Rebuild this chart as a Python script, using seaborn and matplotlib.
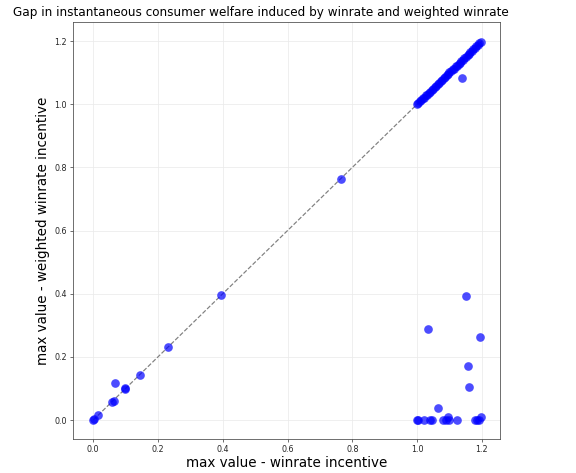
import numpy as np
import pandas as pd
import matplotlib
matplotlib.use("Agg")
import matplotlib.pyplot as plt
import seaborn as sns

# points lying on (or near) the diagonal, low end
low_x = [0.0, 0.003, 0.016, 0.058, 0.063, 0.066, 0.098, 0.097, 0.143, 0.230, 0.395, 0.764]
low_y = [0.0, 0.002, 0.016, 0.057, 0.060, 0.116, 0.097, 0.100, 0.142, 0.230, 0.395, 0.763]

# dense diagonal band between 1.0 and 1.2
band_x = [1.000, 1.004, 1.008, 1.013, 1.018, 1.022, 1.027, 1.031, 1.036, 1.041,
          1.045, 1.050, 1.054, 1.059, 1.064, 1.068, 1.073, 1.077, 1.082, 1.087,
          1.091, 1.096, 1.100, 1.105, 1.110, 1.114, 1.119, 1.123, 1.128, 1.133,
          1.137, 1.142, 1.146, 1.151, 1.156, 1.160, 1.165, 1.169, 1.174, 1.179,
          1.183, 1.188, 1.192, 1.196]
band_y = [1.000, 1.005, 1.009, 1.013, 1.019, 1.021, 1.028, 1.030, 1.037, 1.040,
          1.046, 1.049, 1.055, 1.058, 1.065, 1.067, 1.074, 1.076, 1.083, 1.086,
          1.092, 1.095, 1.101, 1.104, 1.111, 1.113, 1.120, 1.122, 1.129, 1.132,
          1.138, 1.141, 1.147, 1.150, 1.157, 1.159, 1.166, 1.168, 1.175, 1.178,
          1.184, 1.187, 1.193, 1.196]

# off-diagonal points
off_x = [1.140, 1.150, 1.033, 1.193, 1.157, 1.160, 1.065,
         1.000, 1.004, 1.020, 1.040, 1.045, 1.081, 1.090, 1.097, 1.100, 1.122,
         1.179, 1.185, 1.190, 1.196]
off_y = [1.082, 0.392, 0.289, 0.263, 0.171, 0.104, 0.039,
         0.0, 0.0, 0.0, 0.0, 0.0, 0.0, 0.0, 0.010, 0.0, 0.0,
         0.0, 0.0, 0.0, 0.008]

df = pd.DataFrame({
    "winrate": low_x + band_x + off_x,
    "weighted": low_y + band_y + off_y,
})

sns.set_style("whitegrid", {"axes.edgecolor": "0.3", "grid.color": "0.92",
                            "xtick.bottom": True, "ytick.left": True,
                            "text.color": "black", "axes.labelcolor": "black",
                            "xtick.color": "0.15", "ytick.color": "0.15"})

fig = plt.figure(figsize=(8, 6.57), dpi=72)
ax = fig.add_axes([0.127, 0.072, 0.741, 0.881])

ax.plot([0, 1.2], [0, 1.2], linestyle="--", color="gray", linewidth=1.2, zorder=1)
sns.scatterplot(data=df, x="winrate", y="weighted", ax=ax, color="blue",
                alpha=0.7, s=75, linewidth=0, zorder=2)

ax.set_xlim(-0.062, 1.256)
ax.set_ylim(-0.06, 1.26)
ax.set_xticks([0.0, 0.2, 0.4, 0.6, 0.8, 1.0, 1.2])
ax.set_yticks([0.0, 0.2, 0.4, 0.6, 0.8, 1.0, 1.2])
ax.tick_params(labelsize=8, length=3, color="0.3")
ax.set_xlabel("max value - winrate incentive", fontsize=13.5, labelpad=2)
ax.set_ylabel("max value - weighted winrate incentive", fontsize=13.5)
ax.set_title("Gap in instantaneous consumer welfare induced by winrate and weighted winrate",
             fontsize=12, x=0.44)

fig.savefig("out.png", dpi=72)
